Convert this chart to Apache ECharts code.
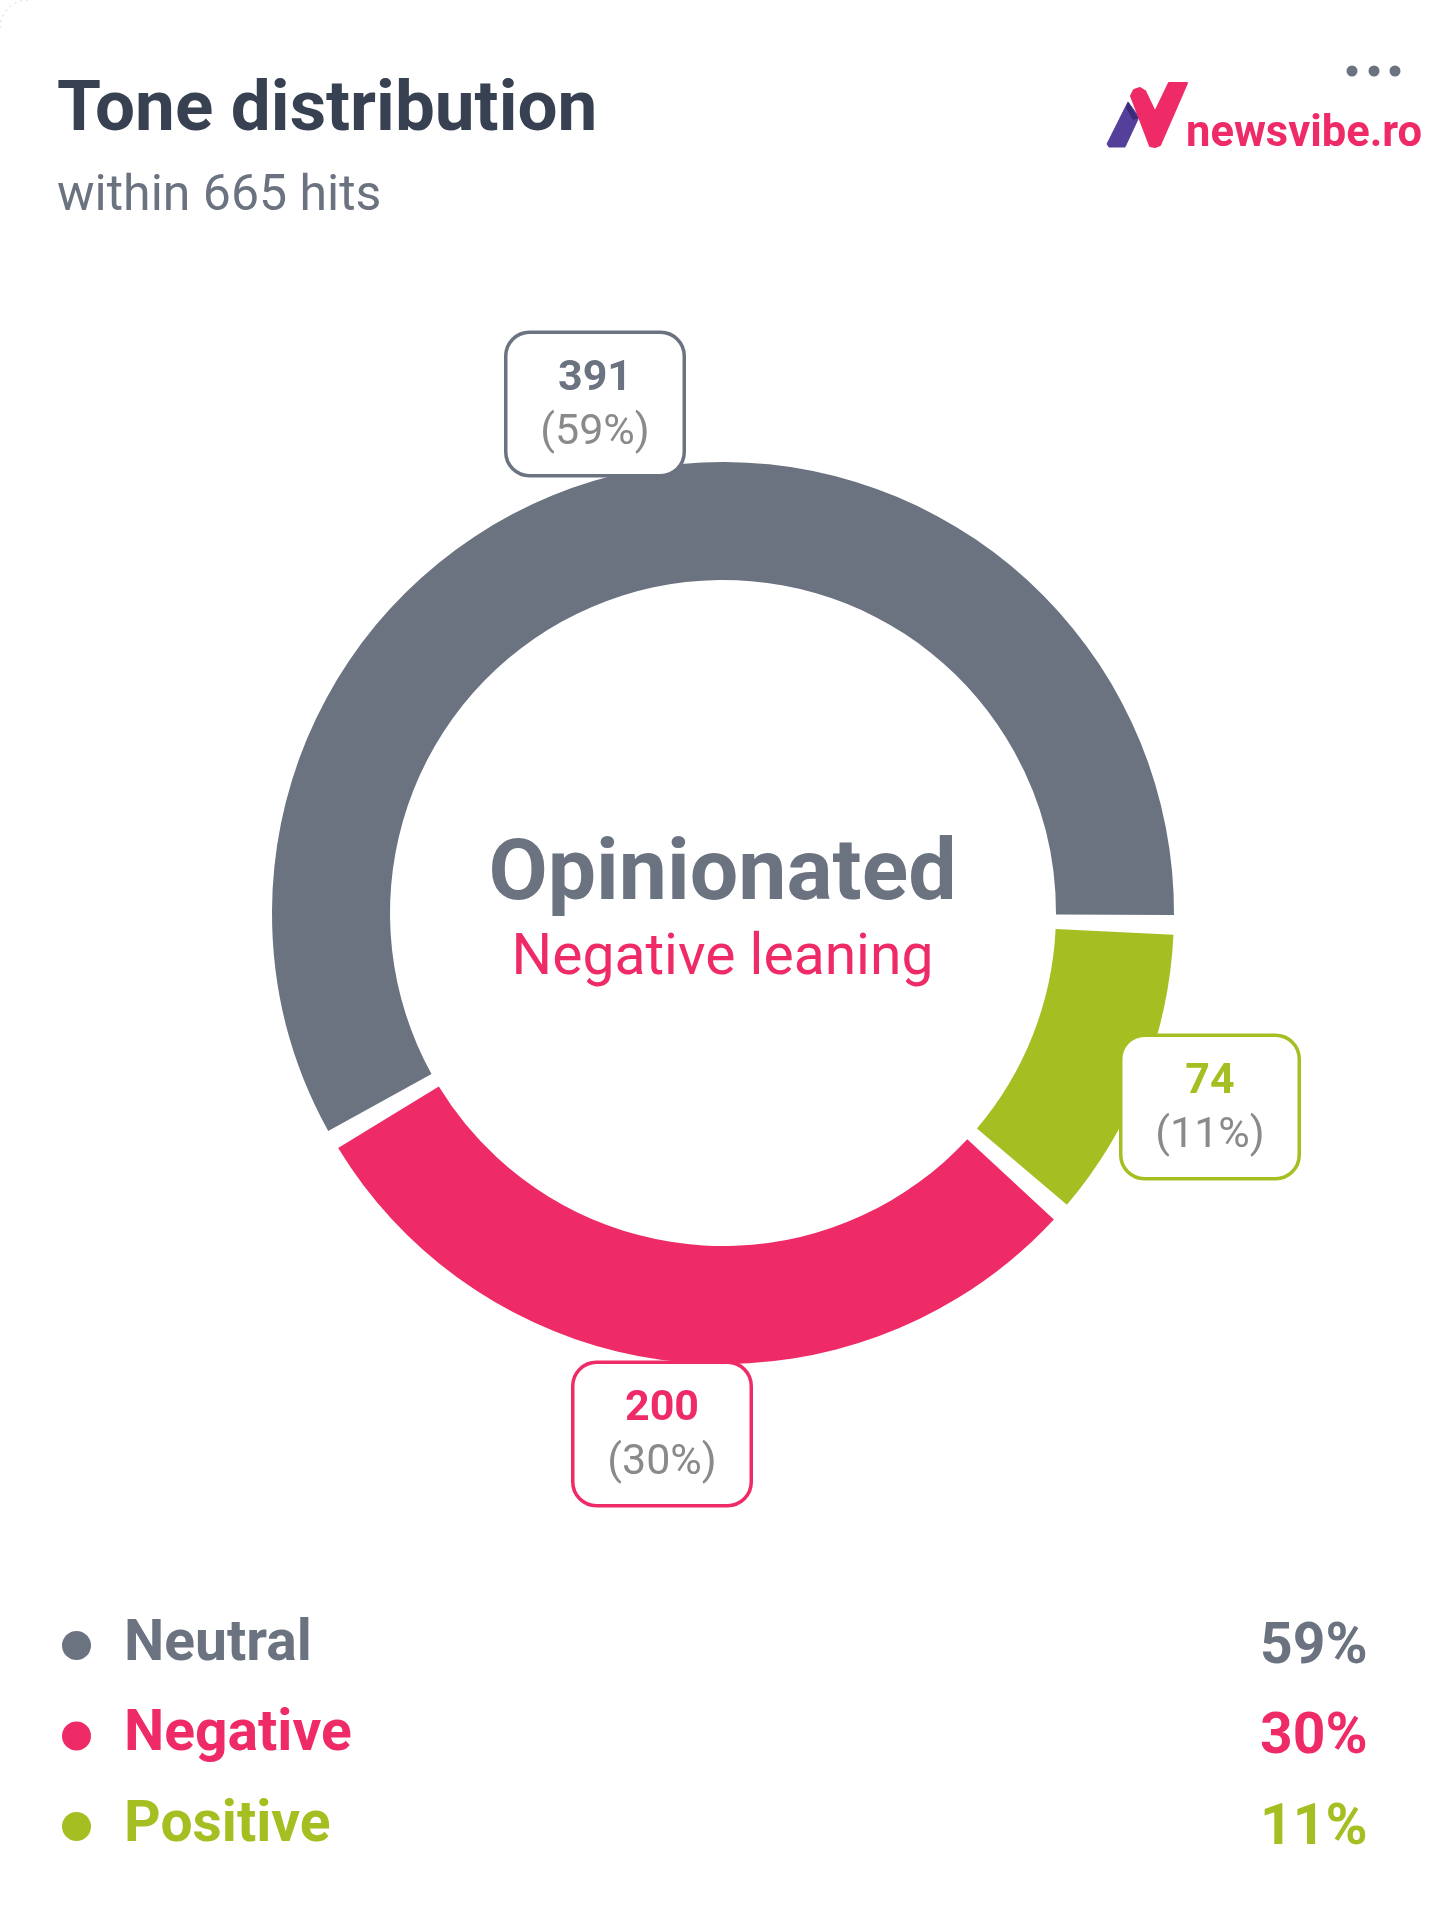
<!DOCTYPE html>
<html>
<head>
<meta charset="utf-8">
<title>Tone distribution</title>
<script src="https://cdn.jsdelivr.net/npm/echarts@6/dist/echarts.min.js"></script>
<style>
html, body { margin: 0; padding: 0; background: #ffffff; }
#chart { width: 1445px; height: 1920px; }
</style>
</head>
<body>
<div id="chart"></div>
<script>
// 数据
var categories = ['Neutral', 'Negative', 'Positive'];
var hits = [391, 200, 74];
var percents = ['59%', '30%', '11%'];
var colors = ['#6b7280', '#ef2b67', '#a5bf22'];
var totalHits = 665;

// 标签框左上角位置（Neutral, Negative, Positive）
var labelBoxes = [[505, 334], [572, 1364], [1120, 1037]];

var pieData = categories.map(function (name, i) {
    return {
        name: name,
        value: hits[i],
        itemStyle: { color: colors[i] },
        label: {
            borderColor: colors[i],
            rich: {
                val: { color: colors[i], fontSize: 43, fontWeight: 'bold', fontFamily: 'Roboto', lineHeight: 54, align: 'center' },
                pct: { color: '#8a8a8a', fontSize: 43, fontFamily: 'Roboto', lineHeight: 54, align: 'center' }
            }
        }
    };
});

var legendData = categories.map(function (name, i) {
    return { name: name, icon: 'circle', textStyle: { color: colors[i] } };
});

var option = {
    backgroundColor: '#ffffff',
    animation: false,
    title: [
        { text: 'Tone distribution', left: 52, top: 72, textStyle: { color: '#374151', fontSize: 71, fontWeight: 'bold', fontFamily: 'Roboto' } },
        { text: 'within ' + totalHits + ' hits', left: 52, top: 167, textStyle: { color: '#6b7280', fontSize: 50, fontWeight: 'normal', fontFamily: 'Roboto' } },
        { text: 'Opinionated', left: 'center', top: 829, textStyle: { color: '#6b7280', fontSize: 86, fontWeight: 'bold', fontFamily: 'Roboto' } },
        { text: 'Negative leaning', left: 'center', top: 926, textStyle: { color: '#ef2b67', fontSize: 57, fontWeight: 'normal', fontFamily: 'Roboto' } }
    ],
    legend: {
        orient: 'vertical',
        left: 57,
        top: 1609,
        itemWidth: 29,
        itemHeight: 29,
        itemGap: 27.5,
        selectedMode: false,
        data: legendData,
        formatter: function (name) {
            return '{name|' + name + '}{pct|' + percents[categories.indexOf(name)] + '}';
        },
        textStyle: {
            fontFamily: 'Roboto',
            fontWeight: 'bold',
            rich: {
                name: { fontSize: 57, fontWeight: 'bold', fontFamily: 'Roboto', width: 1136, lineHeight: 56, padding: [0, 0, 0, 28] },
                pct: { fontSize: 57, fontWeight: 'bold', fontFamily: 'Roboto', lineHeight: 56, padding: [6, 0, 0, 0] }
            }
        }
    },
    graphic: [
        // 卡片左上圆角
        { type: 'arc', shape: { cx: 28, cy: 28, r: 28, startAngle: Math.PI, endAngle: Math.PI * 1.5 }, style: { stroke: '#d4d4d4', fill: null, lineWidth: 1, lineDash: [2, 4] } },
        // 更多菜单的三个点
        { type: 'circle', shape: { cx: 1352, cy: 71, r: 5.5 }, style: { fill: '#6b7280' } },
        { type: 'circle', shape: { cx: 1374, cy: 71, r: 5.5 }, style: { fill: '#6b7280' } },
        { type: 'circle', shape: { cx: 1395, cy: 71, r: 5.5 }, style: { fill: '#6b7280' } },
        // 标志
        { type: 'polygon', shape: { points: [[1128, 102], [1107, 144], [1109, 147], [1125, 147], [1139, 117]] }, style: { fill: '#54409a', stroke: '#54409a', lineWidth: 1, lineJoin: 'round' } },
        { type: 'polygon', shape: { points: [[1131, 96], [1134, 90], [1140, 88], [1145, 91], [1155, 112], [1169, 83], [1187, 83], [1160, 145], [1155, 147], [1150, 146]] }, style: { fill: '#ef2b67', stroke: '#ef2b67', lineWidth: 2, lineJoin: 'round' } },
        { type: 'polygon', shape: { points: [[1128, 102], [1138, 118], [1133, 120], [1126, 108]] }, style: { fill: '#3b2a78' } },
        { type: 'text', left: 1186, top: 113, style: { text: 'newsvibe.ro', fill: '#ef2b67', font: 'bold 43.5px Roboto' } }
    ],
    series: [{
        type: 'pie',
        center: [723, 913],
        radius: [333, 451],
        startAngle: -1.5,
        clockwise: false,
        padAngle: 2.5,
        data: pieData,
        labelLine: { show: false },
        label: {
            show: true,
            position: 'inside',
            formatter: function (p) {
                return '{val|' + p.value + '}\n{pct|(' + percents[p.dataIndex] + ')}';
            },
            backgroundColor: '#ffffff',
            borderWidth: 3.5,
            borderRadius: 22,
            width: 175,
            height: 106,
            padding: [18, 0, 16, 0],
            align: 'center'
        },
        labelLayout: function (params) {
            var box = labelBoxes[params.dataIndex];
            return { x: box[0] + 90, y: box[1], align: 'center', verticalAlign: 'top' };
        }
    }]
};

var chart = echarts.init(document.getElementById('chart'));
chart.setOption(option);
</script>
</body>
</html>
